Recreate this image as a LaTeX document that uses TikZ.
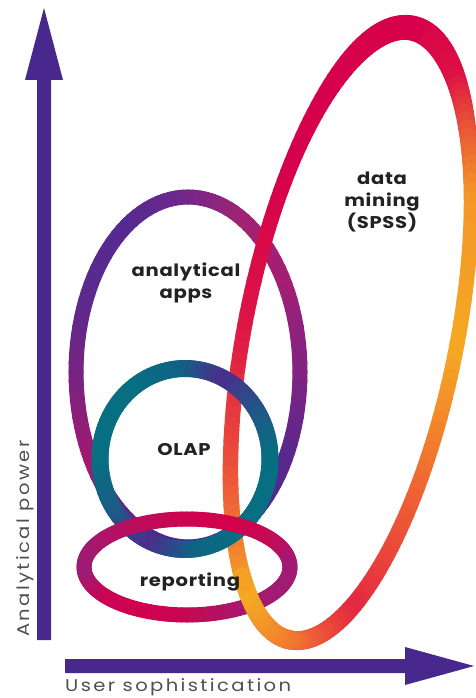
\documentclass[tikz,border=0pt]{standalone}
\usepackage{fontspec}
\newfontfamily\labelfont[FakeStretch=1.15,LetterSpace=4]{Poppins}
\newfontfamily\axisfont[FakeStretch=1.15,LetterSpace=14]{Poppins}

\definecolor{axisblue}{RGB}{72,40,140}
\definecolor{labelink}{RGB}{34,34,34}
\definecolor{axisink}{RGB}{80,80,80}

% ring geometry: centre, semi-axes, rotation
\newcommand\setring[5]{\def\ringX{#1}\def\ringY{#2}\def\ringA{#3}\def\ringB{#4}\def\ringT{#5}}
% colour keyframes every 30 degrees (13 entries, last = first)
\newcommand\setcolors[3]{\def\ringR{#1}\def\ringG{#2}\def\ringBl{#3}}
% band width as an expression in \rtm
\newcommand\setwidth[1]{\def\ringW{#1}}

% draw the ring from angle #1 to #2 in steps of #3 degrees
\newcommand\ringarc[3]{%
  \pgfmathtruncatemacro\nseg{round((#2-(#1))/#3)}%
  \foreach \i in {1,...,\nseg}{%
    \pgfmathsetmacro\rta{#1+(\i-1)*#3}%
    \pgfmathsetmacro\rtb{#1+\i*#3}%
    \pgfmathsetmacro\rtm{mod(\rta+0.5*#3+720,360)}%
    \pgfmathtruncatemacro\rk{floor(\rtm/30)}%
    \pgfmathtruncatemacro\rkn{\rk+1}%
    \pgfmathsetmacro\rf{(\rtm-30*\rk)/30}%
    \pgfmathsetmacro\rra{\ringR[\rk]}\pgfmathsetmacro\rrb{\ringR[\rkn]}%
    \pgfmathsetmacro\rga{\ringG[\rk]}\pgfmathsetmacro\rgb{\ringG[\rkn]}%
    \pgfmathsetmacro\rba{\ringBl[\rk]}\pgfmathsetmacro\rbb{\ringBl[\rkn]}%
    \pgfmathsetmacro\colR{(\rra*(1-\rf)+\rrb*\rf)/255}%
    \pgfmathsetmacro\colG{(\rga*(1-\rf)+\rgb*\rf)/255}%
    \pgfmathsetmacro\colB{(\rba*(1-\rf)+\rbb*\rf)/255}%
    \definecolor{segcol}{rgb}{\colR,\colG,\colB}%
    \pgfmathsetmacro\rwid{\ringW}%
    \draw[ringline, draw=segcol, line width=\rwid pt]
      ({\ringX+\ringA*cos(\rta)*cos(\ringT)-\ringB*sin(\rta)*sin(\ringT)},
       {\ringY+\ringA*cos(\rta)*sin(\ringT)+\ringB*sin(\rta)*cos(\ringT)})
      -- ({\ringX+\ringA*cos(\rtb)*cos(\ringT)-\ringB*sin(\rtb)*sin(\ringT)},
          {\ringY+\ringA*cos(\rtb)*sin(\ringT)+\ringB*sin(\rtb)*cos(\ringT)});
  }%
}

\tikzset{
  ringline/.style={line cap=round},
  label/.style={font=\labelfont\bfseries\fontsize{17}{22}\selectfont,
    text=labelink, align=center, inner sep=0pt},
  axislabel/.style={font=\axisfont\fontsize{17}{20}\selectfont,
    text=axisink, inner sep=0pt},
  axisarrow/.style={fill=axisblue},
}

\begin{document}
\begin{tikzpicture}[x=1pt,y=-1pt]
\useasboundingbox (0,0) rectangle (475,698);
\fill[white] (0,0) rectangle (475,698);

% analytical apps
\setring{188}{372}{112}{175}{0}
\setcolors{{130,90,80,75,80,165,120,90,85,110,160,165,130}}
          {{35,40,40,40,40,25,35,42,42,40,35,30,35}}
          {{130,140,140,140,140,110,130,142,145,140,115,115,130}}
\setwidth{15}
\ringarc{0}{360}{3}

% data mining
\def\dmring{%
  \setring{351}{334}{312}{106}{-78.7}%
  \setcolors{{214,220,244,245,238,228,240,245,236,220,214,214,214}}
            {{0,15,150,168,95,40,115,170,85,20,0,0,0}}
            {{75,70,40,35,52,65,50,35,58,70,75,75,75}}%
  \setwidth{15+10*max(cos(\rtm),0)^4+4*max(-cos(\rtm),0)^3}}
\dmring
\ringarc{0}{360}{2}

% OLAP
\setring{185}{459}{85}{90.5}{0}
\setcolors{{8,8,8,15,75,30,8,8,8,15,75,35,8}}
          {{110,110,110,100,45,90,110,110,110,100,45,85,110}}
          {{130,130,130,132,140,135,130,130,130,132,140,135,130}}
\setwidth{17}
\ringarc{0}{360}{3}

% reporting
\setring{187}{567}{103}{48}{0}
\setcolors{{160,160,165,195,210,200,155,165,185,205,212,195,160}}
          {{25,28,25,10,0,5,28,25,15,5,0,12,25}}
          {{115,115,110,85,78,85,118,110,95,80,75,88,115}}
\setwidth{15}
\ringarc{0}{360}{3}

% data mining passes over reporting at the lower right
\dmring
\ringarc{178}{214}{2}

% axes
\fill[axisarrow] (37,640) -- (37,80) -- (25,80) -- (44,8) -- (63,80)
  -- (51,80) -- (51,640) -- cycle;
\fill[axisarrow] (65,659) -- (405,659) -- (405,647) -- (474,666)
  -- (405,685) -- (405,673) -- (65,673) -- cycle;

% labels
\node[label] (dm) at (382,202) {data\\mining\\(SPSS)};
\node[label] (aa) at (186,283) {analytical\\apps};
\node[label] (olap) at (184,450) {OLAP};
\node[label] (rep) at (190,582) {reporting};
\node[axislabel, anchor=base west] (xlab) at (65,691) {User sophistication};
\node[axislabel, anchor=base west, rotate=90] (ylab) at (29,637) {Analytical power};
\end{tikzpicture}
\end{document}
